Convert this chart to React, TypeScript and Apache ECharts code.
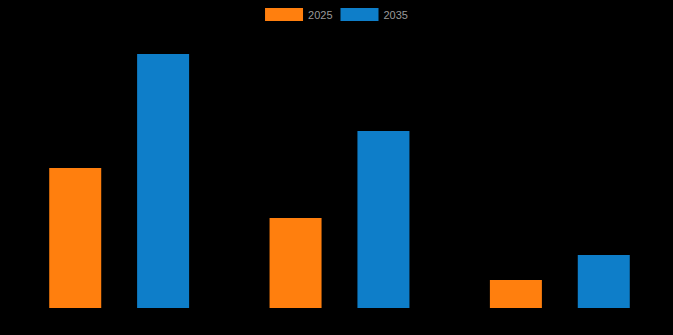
import React, { useEffect, useRef } from "react";
import * as echarts from "echarts";

const categories = ["A", "B", "C"];
const seriesNames = ["2025", "2035"];
const values2025 = [140, 90, 28];
const values2035 = [254, 177, 53];

export default function App() {
  const ref = useRef<HTMLDivElement>(null);
  useEffect(() => {
    document.body.style.margin = "0";
    document.body.style.background = "#000";
    const chart = echarts.init(ref.current!, null, { renderer: "svg" });
    chart.setOption({
      animation: false,
      backgroundColor: "#000000",
      legend: {
        top: 3,
        left: "center",
        icon: "rect",
        itemWidth: 38,
        itemHeight: 13,
        itemGap: 8,
        textStyle: { color: "#999999", fontSize: 11, fontFamily: "sans-serif" },
        data: seriesNames,
      },
      grid: { left: 9, right: 3, top: 48, bottom: 27, containLabel: false },
      xAxis: {
        type: "category",
        data: categories,
        axisLine: { show: false },
        axisTick: { show: false },
        axisLabel: { show: false },
      },
      yAxis: {
        type: "value",
        min: 0,
        max: 260,
        axisLine: { show: false },
        axisTick: { show: false },
        axisLabel: { show: false },
        splitLine: { show: false },
      },
      series: [
        {
          name: seriesNames[0],
          type: "bar",
          data: values2025,
          barWidth: 52,
          barGap: "69%",
          itemStyle: { color: "#ff7f0e" },
        },
        {
          name: seriesNames[1],
          type: "bar",
          data: values2035,
          barWidth: 52,
          barGap: "69%",
          itemStyle: { color: "#0e7ec9" },
        },
      ],
    });
    return () => chart.dispose();
  }, []);
  return <div ref={ref} style={{ width: 673, height: 335, background: "#000" }} />;
}
